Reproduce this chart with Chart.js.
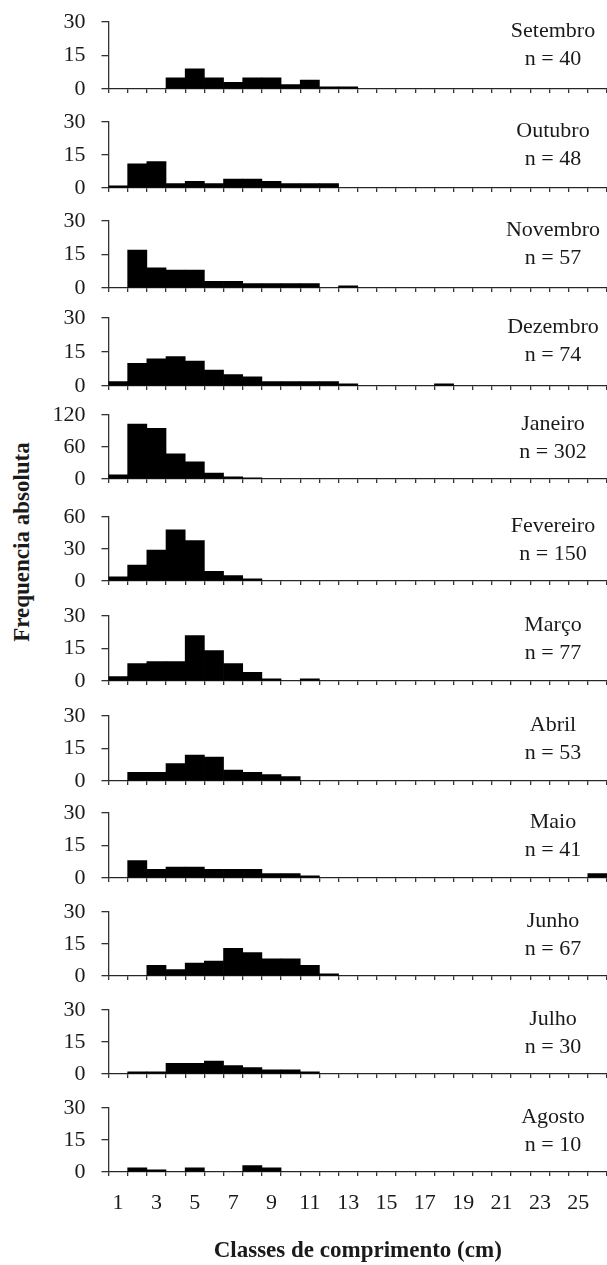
<!DOCTYPE html>
<html>
<head>
<meta charset="utf-8">
<script src="https://cdn.jsdelivr.net/npm/chart.js@4.4.0/dist/chart.umd.min.js"></script>
<style>
  html, body { margin: 0; padding: 0; background: #fff; }
  #wrap { position: relative; width: 607px; height: 1265px; overflow: hidden; }
  #wrap canvas { position: absolute; left: 0; }
  #yTitle {
    position: absolute; left: 22px; top: 542px;
    transform: translate(-50%, -50%) rotate(-90deg);
    font: bold 23px "Liberation Serif"; color: #1a1a1a; white-space: nowrap;
  }
</style>
</head>
<body>
<div id="wrap"><div id="yTitle">Frequencia absoluta</div></div>
<script>
// length classes (cm) and the labels shown under the last panel
const classes = ['1','2','3','4','5','6','7','8','9','10','11','12','13',
                 '14','15','16','17','18','19','20','21','22','23','24','25','26'];
const tickLabels = ['1','3','5','7','9','11','13','15','17','19','21','23','25'];

const months = ['Setembro','Outubro','Novembro','Dezembro','Janeiro','Fevereiro',
                'Março','Abril','Maio','Junho','Julho','Agosto'];
const nTotals = [40, 48, 57, 74, 302, 150, 77, 53, 41, 67, 30, 10];
const yMax = [30, 30, 30, 30, 120, 60, 30, 30, 30, 30, 30, 30];

// absolute frequency per class, one array per month
const setembro  = [0,0,0,5,9,5,3,5,5,2,4,1,1,0,0,0,0,0,0,0,0,0,0,0,0,0];
const outubro   = [1,11,12,2,3,2,4,4,3,2,2,2,0,0,0,0,0,0,0,0,0,0,0,0,0,0];
const novembro  = [0,17,9,8,8,3,3,2,2,2,2,0,1,0,0,0,0,0,0,0,0,0,0,0,0,0];
const dezembro  = [2,10,12,13,11,7,5,4,2,2,2,2,1,0,0,0,0,1,0,0,0,0,0,0,0,0];
const janeiro   = [8,103,95,47,32,11,4,2,0,0,0,0,0,0,0,0,0,0,0,0,0,0,0,0,0,0];
const fevereiro = [4,15,29,48,38,9,5,2,0,0,0,0,0,0,0,0,0,0,0,0,0,0,0,0,0,0];
const marco     = [2,8,9,9,21,14,8,4,1,0,1,0,0,0,0,0,0,0,0,0,0,0,0,0,0,0];
const abril     = [0,4,4,8,12,11,5,4,3,2,0,0,0,0,0,0,0,0,0,0,0,0,0,0,0,0];
const maio      = [0,8,4,5,5,4,4,4,2,2,1,0,0,0,0,0,0,0,0,0,0,0,0,0,0,2];
const junho     = [0,0,5,3,6,7,13,11,8,8,5,1,0,0,0,0,0,0,0,0,0,0,0,0,0,0];
const julho     = [0,1,1,5,5,6,4,3,2,2,1,0,0,0,0,0,0,0,0,0,0,0,0,0,0,0];
const agosto    = [0,2,1,0,2,0,0,3,2,0,0,0,0,0,0,0,0,0,0,0,0,0,0,0,0,0];

const series = [setembro, outubro, novembro, dezembro, janeiro, fevereiro,
                marco, abril, maio, junho, julho, agosto];

// panel layout (page pixels): top (max tick) and bottom (zero line) of each plot
const tops    = [22, 122, 221, 318, 415, 517, 616, 716, 813, 912, 1010, 1108];
const bottoms = [89, 188, 288, 386, 479, 581, 681, 781, 878, 976, 1074, 1172];
const padTop = 20;
const axisLeft = 108.5;
const ink = '#1a1a1a';
const lineCol = '#333';
const serif = 'Liberation Serif';

const monthLabel = {
  id: 'monthLabel',
  afterDraw(chart, args, opts) {
    const ctx = chart.ctx;
    const top = chart.chartArea.top;
    ctx.save();
    ctx.fillStyle = ink;
    ctx.font = '22px "' + serif + '"';
    ctx.textAlign = 'center';
    ctx.textBaseline = 'alphabetic';
    ctx.fillText(opts.month, 553, top + 15);
    ctx.fillText('n = ' + opts.n, 553, top + 43);
    ctx.restore();
  }
};

const wrap = document.getElementById('wrap');

series.forEach((values, i) => {
  const isLast = i === series.length - 1;
  const plotH = bottoms[i] - tops[i];
  const canvasTop = tops[i] - padTop;
  const canvasH = isLast ? 1265 - canvasTop : plotH + padTop + 12;

  const canvas = document.createElement('canvas');
  canvas.width = 607;
  canvas.height = canvasH;
  canvas.style.top = canvasTop + 'px';
  wrap.appendChild(canvas);

  new Chart(canvas.getContext('2d'), {
    type: 'bar',
    data: {
      labels: classes,
      datasets: [{
        data: values,
        backgroundColor: '#000',
        borderWidth: 0,
        barPercentage: 1,
        categoryPercentage: 1
      }]
    },
    plugins: [monthLabel],
    options: {
      responsive: false,
      animation: false,
      devicePixelRatio: 1,
      layout: { padding: { top: padTop, left: 0, right: 0, bottom: 0 } },
      plugins: {
        legend: { display: false },
        tooltip: { enabled: false },
        monthLabel: { month: months[i], n: nTotals[i] }
      },
      scales: {
        x: {
          offset: true,
          grid: { offset: true, drawOnChartArea: false, drawTicks: true,
                  tickLength: 4, color: lineCol, lineWidth: 1.3 },
          border: { color: lineCol, width: 1.3 },
          ticks: {
            display: isLast,
            autoSkip: false,
            maxRotation: 0,
            padding: 14,
            color: ink,
            font: { family: serif, size: 22 },
            callback: function(value, idx) {
              const lab = classes[idx];
              return tickLabels.includes(lab) ? lab : '';
            }
          },
          title: {
            display: isLast,
            text: 'Classes de comprimento (cm)',
            color: ink,
            font: { family: serif, size: 23, weight: 'bold' },
            padding: { top: 0, bottom: 0 }
          },
          afterFit: function(scale) {
            scale.height = canvasH - padTop - plotH;
            scale.paddingLeft = 0;
            scale.paddingRight = 0;
          }
        },
        y: {
          min: 0,
          max: yMax[i],
          ticks: { stepSize: yMax[i] / 2, padding: 16, color: ink,
                   font: { family: serif, size: 22 } },
          grid: { drawOnChartArea: false, drawTicks: true, tickLength: 7,
                  color: lineCol, lineWidth: 1.3 },
          border: { color: lineCol, width: 1.3 },
          afterFit: function(scale) {
            scale.width = axisLeft;
            scale.paddingTop = 0;
            scale.paddingBottom = 0;
          }
        }
      }
    }
  });
});
</script>
</body>
</html>
